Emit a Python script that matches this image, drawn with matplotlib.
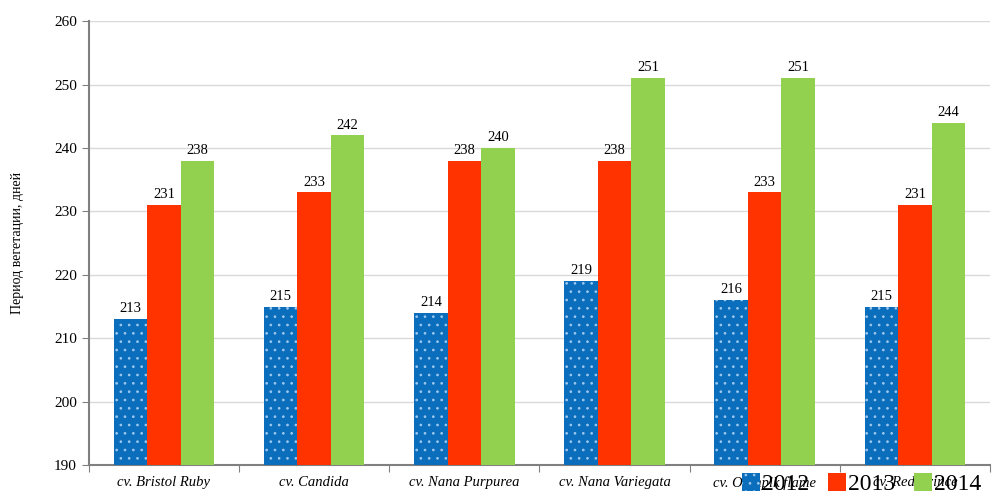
import numpy as np
import matplotlib.pyplot as plt
from matplotlib.patches import Patch

plt.rcParams['font.family'] = ['Liberation Serif', 'DejaVu Serif']
plt.rcParams['hatch.color'] = 'white'
plt.rcParams['hatch.linewidth'] = 0.7

# data
cultivars = ['cv. Bristol Ruby', 'cv. Candida', 'cv. Nana Purpurea',
             'cv. Nana Variegata', 'cv. Olimpik flame', 'cv. Red Prince']
years = ['2012', '2013', '2014']
v2012 = [213, 215, 214, 219, 216, 215]
v2013 = [231, 233, 238, 238, 233, 231]
v2014 = [238, 242, 240, 251, 251, 244]

colors = ['#0a6ebd', '#ff3300', '#92d050']

fig = plt.figure(figsize=(9.98, 5.04), dpi=100)
ax = fig.add_axes([0.089, 0.077, 0.903, 0.881])

x = np.arange(len(cultivars))
w = 0.223
series = [v2012, v2013, v2014]
for k, vals in enumerate(series):
    pos = x + (k - 1) * w
    bars = ax.bar(pos, np.array(vals) - 190, width=w, bottom=190,
                  color=colors[k], linewidth=0, zorder=3,
                  hatch='..' if k == 0 else None,
                  edgecolor='#9fc8ee' if k == 0 else colors[k])
    for b, v in zip(bars, vals):
        ax.text(b.get_x() + b.get_width() / 2, v + 0.6, str(v),
                ha='center', va='bottom', fontsize=10.5, zorder=4)

ax.set_ylim(190, 260)
ax.set_xlim(-0.5, len(cultivars) - 0.5)
ax.set_yticks(range(190, 261, 10))
ax.yaxis.grid(True, color='#d9d9d9', linewidth=1, zorder=0)
ax.tick_params(axis='y', labelsize=11, direction='out', length=5, color='#808080')

ax.set_xticks(np.arange(-0.5, len(cultivars), 1))
ax.set_xticklabels([])
ax.set_xticks(x, minor=True)
ax.set_xticklabels(cultivars, minor=True, fontstyle='italic', fontsize=10.5)
ax.tick_params(axis='x', which='major', direction='out', length=5, color='#808080')
ax.tick_params(axis='x', which='minor', length=0, pad=8)

for s in ['top', 'right']:
    ax.spines[s].set_visible(False)
for s in ['left', 'bottom']:
    ax.spines[s].set_color('#808080')
    ax.spines[s].set_linewidth(1.5)

ax.set_ylabel('Период вегетации, дней', fontsize=10, labelpad=22)

handles = [Patch(facecolor=colors[0], hatch='..', edgecolor='#9fc8ee', linewidth=0),
           Patch(facecolor=colors[1], linewidth=0),
           Patch(facecolor=colors[2], linewidth=0)]
fig.legend(handles, years, loc='lower right', bbox_to_anchor=(1.005, -0.025),
           ncol=3, frameon=False, fontsize=17, handlelength=0.75,
           handleheight=0.75, handletextpad=0.1, columnspacing=0.8)

fig.savefig('out.png', dpi=100)
